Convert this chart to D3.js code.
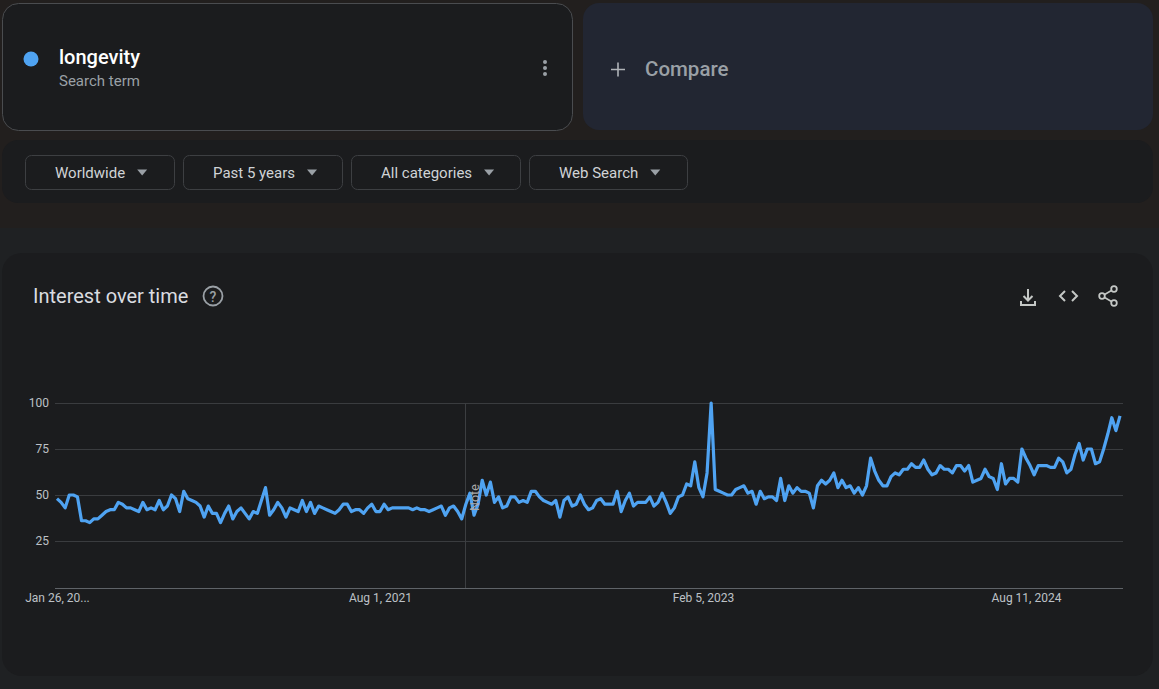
<!DOCTYPE html>
<html>
<head>
<meta charset="utf-8">
<script src="https://cdn.jsdelivr.net/npm/d3@7/dist/d3.min.js"></script>
<style>
  html, body { margin: 0; padding: 0; background: #221f1e; }
  svg { display: block; font-family: Roboto, "Noto Sans", Arial, sans-serif; }
</style>
</head>
<body>
<svg id="chart" width="1159" height="689"></svg>
<script>
// ---- data ----
const term = "longevity";
const startWeek = "2020-01-26";
const values = [
  48,46,43,50,50,49,36,36,35,37,37,39,41,42,42,46,45,43,43,42,
  41,46,42,43,42,47,42,44,50,48,41,52,48,47,46,44,38,44,40,40,
  35,40,44,37,41,43,40,37,41,40,47,54,39,42,46,43,38,43,42,41,
  47,41,46,40,44,43,42,41,40,42,45,45,41,42,42,40,43,45,41,41,
  45,42,43,43,43,43,43,42,43,42,42,41,42,43,44,39,43,44,41,37,
  45,51,39,45,58,50,57,46,49,43,44,49,49,46,47,46,52,52,49,47,
  46,45,47,38,47,49,44,45,50,45,42,43,47,48,45,45,45,52,41,47,
  51,44,46,46,46,49,44,46,51,46,40,43,49,50,56,55,68,54,49,62,
  100,53,52,51,50,50,53,54,55,51,52,45,52,48,49,49,47,59,47,55,
  51,54,52,52,51,43,55,58,56,58,62,54,58,54,55,51,54,50,55,70,
  63,58,55,55,60,62,61,64,64,67,65,65,69,64,61,62,66,64,64,62,
  66,66,63,66,57,58,59,64,60,59,53,67,56,59,59,57,75,70,66,61,
  66,66,66,65,65,70,68,62,64,72,78,69,75,75,67,68,75,83,92,85,
  93
];
const yTicks = [25, 50, 75, 100];
const xTickDates = ["2020-01-26", "2021-08-01", "2023-02-05", "2024-08-11"];
const xTickLabels = ["Jan 26, 20...", "Aug 1, 2021", "Feb 5, 2023", "Aug 11, 2024"];
const noteDate = "2021-12-26";
const filters = ["Worldwide", "Past 5 years", "All categories", "Web Search"];

// ---- build ----
const parse = d3.utcParse("%Y-%m-%d");
const t0 = parse(startWeek);
const data = values.map((v, i) => ({ date: d3.utcWeek.offset(t0, i), value: v }));

const svg = d3.select("#chart");

// background panels
svg.append("rect").attr("x", 0).attr("y", 0).attr("width", 1159).attr("height", 689).attr("fill", "#221f1e");
svg.append("rect").attr("x", 0).attr("y", 228).attr("width", 1159).attr("height", 461).attr("fill", "#1f2123");

// search term card
svg.append("rect").attr("x", 2.5).attr("y", 3.5).attr("width", 570).attr("height", 127).attr("rx", 16)
  .attr("fill", "#1b1c1e").attr("stroke", "#4a4c4f").attr("stroke-width", 1);
svg.append("circle").attr("cx", 31).attr("cy", 59).attr("r", 7.5).attr("fill", "#4fa3f2");
svg.append("text").attr("x", 59).attr("y", 64).attr("fill", "#ffffff").attr("font-size", 20).attr("font-weight", 500).text(term);
svg.append("text").attr("x", 59).attr("y", 86).attr("fill", "#9aa0a6").attr("font-size", 15).text("Search term");
[62, 68, 74].forEach(cy => svg.append("circle").attr("cx", 545).attr("cy", cy).attr("r", 2).attr("fill", "#9aa0a6"));

// compare card
svg.append("rect").attr("x", 583).attr("y", 3).attr("width", 570).attr("height", 127).attr("rx", 16).attr("fill", "#222632");
svg.append("path").attr("d", "M611,69.5h14M618,62.5v14").attr("stroke", "#b0b3b8").attr("stroke-width", 1.6);
svg.append("text").attr("x", 645).attr("y", 76).attr("fill", "#9aa0a6").attr("font-size", 20.5).attr("font-weight", 500).text("Compare");

// filter bar
svg.append("rect").attr("x", 2).attr("y", 140).attr("width", 1151).attr("height", 63).attr("rx", 16).attr("fill", "#1b1c1e");
const btnX = [25, 183, 351, 529], btnW = [149, 159, 169, 158];
filters.forEach((f, i) => {
  const g = svg.append("g").attr("transform", `translate(${btnX[i]},155)`);
  g.append("rect").attr("x", 0.5).attr("y", 0.5).attr("width", btnW[i]).attr("height", 34).attr("rx", 6)
    .attr("fill", "#1b1c1e").attr("stroke", "#3d3f42");
  const txt = g.append("text").attr("x", 30).attr("y", 23).attr("fill", "#d0d3d6").attr("font-size", 15).text(f);
  const w = txt.node().getComputedTextLength();
  g.append("path").attr("d", `M${30 + w + 12},14.5l10,0l-5,6z`).attr("fill", "#9aa0a6");
});

// chart card
svg.append("rect").attr("x", 2).attr("y", 253).attr("width", 1151).attr("height", 423).attr("rx", 20).attr("fill", "#1b1c1e");
svg.append("text").attr("x", 33).attr("y", 303).attr("fill", "#dadce0").attr("font-size", 20).text("Interest over time");
svg.append("circle").attr("cx", 213).attr("cy", 296).attr("r", 9.5).attr("fill", "none").attr("stroke", "#9aa0a6").attr("stroke-width", 1.8);
svg.append("text").attr("x", 213).attr("y", 301.5).attr("text-anchor", "middle").attr("fill", "#9aa0a6").attr("font-size", 14).attr("font-weight", 500).text("?");
// toolbar icons
svg.append("path").attr("d", "M1028,289v11M1023.5,296l4.5,4.5l4.5,-4.5M1021,301v4h14v-4")
  .attr("fill", "none").attr("stroke", "#c4c7c5").attr("stroke-width", 2);
svg.append("path").attr("d", "M1065,291l-5,5l5,5M1072,291l5,5l-5,5")
  .attr("fill", "none").attr("stroke", "#c4c7c5").attr("stroke-width", 2);
svg.append("path").attr("d", "M1114,289L1102,296L1114,303").attr("fill", "none").attr("stroke", "#c4c7c5").attr("stroke-width", 1.6);
[[1114, 289], [1102, 296], [1114, 303]].forEach(p => svg.append("circle").attr("cx", p[0]).attr("cy", p[1]).attr("r", 2.8)
  .attr("fill", "#1b1c1e").attr("stroke", "#c4c7c5").attr("stroke-width", 1.8));

// scales
const x = d3.scaleUtc().domain([data[0].date, data[data.length - 1].date]).range([57, 1120]);
const y = d3.scaleLinear().domain([0, 100]).range([587, 403]);

// gridlines
svg.append("g").selectAll("line").data(yTicks).join("line")
  .attr("x1", 55).attr("x2", 1123).attr("y1", d => Math.round(y(d)) + 0.5).attr("y2", d => Math.round(y(d)) + 0.5)
  .attr("stroke", "#3a3c3f").attr("stroke-width", 1);

// y-axis labels
const yAxis = d3.axisLeft(y).tickValues(yTicks).tickSize(0).tickPadding(0);
const gy = svg.append("g").attr("transform", "translate(49,0)").call(yAxis);
gy.select(".domain").remove();
gy.selectAll("text").attr("fill", "#bdc1c6").attr("font-size", 12).attr("font-family", "Roboto, sans-serif");

// x axis
const xAxis = d3.axisBottom(x).tickValues(xTickDates.map(parse)).tickFormat((d, i) => xTickLabels[i]).tickSize(0).tickPadding(5);
const gx = svg.append("g").attr("transform", "translate(0,588)").call(xAxis);
gx.select(".domain").remove();
gx.selectAll("text").attr("fill", "#bdc1c6").attr("font-size", 12).attr("font-family", "Roboto, sans-serif");
svg.append("line").attr("x1", 55).attr("x2", 1123).attr("y1", 588.5).attr("y2", 588.5).attr("stroke", "#5f6368");

// note line
const nx = Math.round(x(parse(noteDate))) - 0.5;
svg.append("line").attr("x1", nx).attr("x2", nx).attr("y1", 403).attr("y2", 588).attr("stroke", "#3c3e41");

// line
const line = d3.line().x(d => x(d.date)).y(d => y(d.value));
svg.append("path").datum(data).attr("d", line).attr("fill", "none").attr("stroke", "#4fa3f2")
  .attr("stroke-width", 3.2).attr("stroke-linejoin", "round");

svg.append("text").attr("transform", `translate(${nx + 13},511) rotate(-90)`).attr("fill", "#a8a8a8").attr("font-size", 12.5).text("Note");
</script>
</body>
</html>
